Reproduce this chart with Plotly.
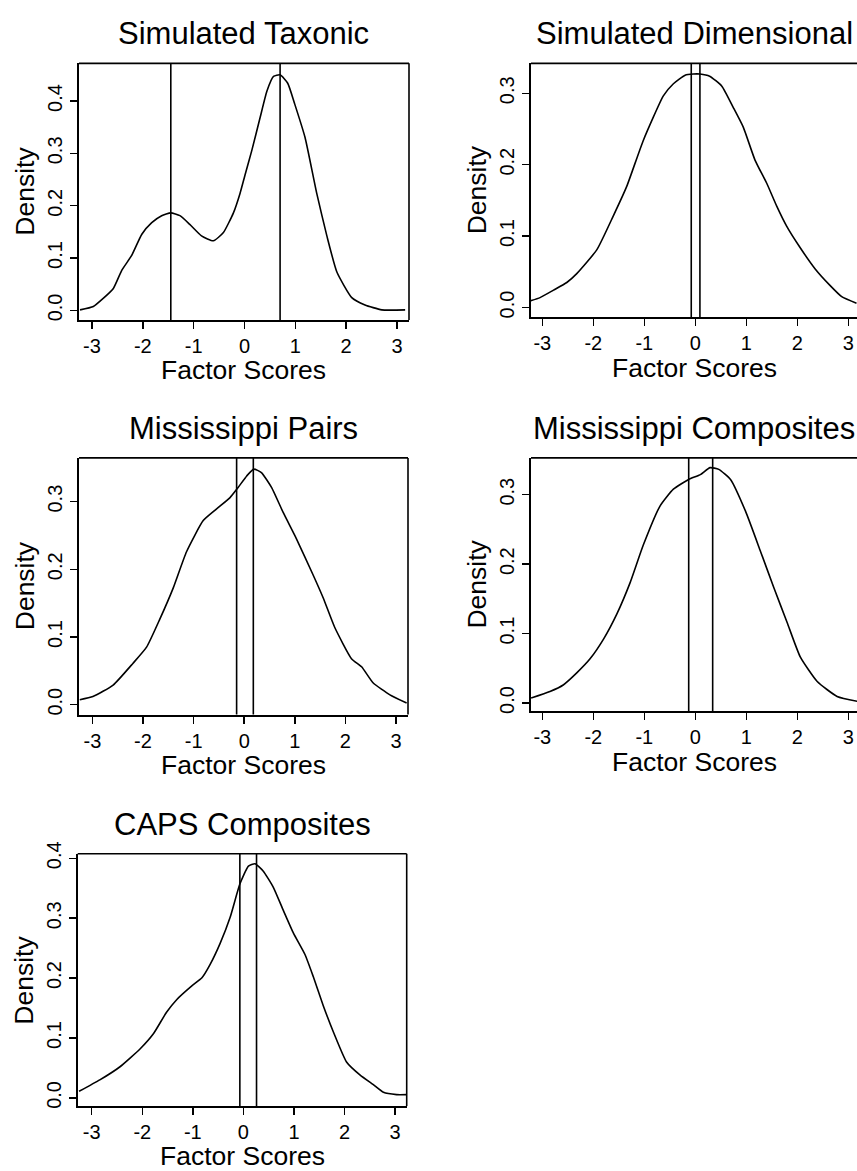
import plotly.graph_objects as go

# ---------------- data ----------------
titles = ["Simulated Taxonic", "Simulated Dimensional", "Mississippi Pairs",
          "Mississippi Composites", "CAPS Composites"]

tax_x = [-3.236, -2.974, -2.78, -2.58, -2.415, -2.22, -2.02, -1.825, -1.63, -1.45, -1.27,
         -1.077, -0.846, -0.612, -0.415, -0.218, -0.087, 0.01, 0.144, 0.307, 0.44, 0.57,
         0.70, 0.85, 0.99, 1.19, 1.42, 1.62, 1.817, 2.11, 2.37, 2.70, 3.16]
tax_y = [0.001, 0.0075, 0.023, 0.042, 0.0765, 0.105, 0.1456, 0.1676, 0.181, 0.1864, 0.181,
         0.1644, 0.1424, 0.133, 0.1488, 0.1864, 0.224, 0.2586, 0.3057, 0.3684, 0.4186, 0.447,
         0.450, 0.434, 0.3936, 0.3307, 0.224, 0.1424, 0.0734, 0.0245, 0.0105, 0.0011, 0.0011]
tax_vlines = [-1.45, 0.70]

dim_x = [-3.24, -3.045, -2.78, -2.52, -2.325, -1.93, -1.61, -1.345, -1.02, -0.627, -0.43,
         -0.2, -0.04, 0.09, 0.28, 0.52, 0.745, 0.94, 1.17, 1.40, 1.596, 1.79, 2.05, 2.35,
         2.64, 2.87, 3.16]
dim_y = [0.0091, 0.0138, 0.0243, 0.035, 0.0474, 0.081, 0.128, 0.1696, 0.234, 0.2964, 0.3134,
         0.3254, 0.327, 0.327, 0.324, 0.310, 0.280, 0.2526, 0.2065, 0.174, 0.142, 0.114,
         0.0844, 0.054, 0.031, 0.0152, 0.006]
dim_vlines = [-0.08, 0.09]

mp_x = [-3.25, -2.99, -2.59, -2.20, -1.93, -1.67, -1.40, -1.14, -0.81, -0.55, -0.28,
        -0.12, 0.05, 0.19, 0.34, 0.54, 0.77, 1.03, 1.36, 1.56, 1.79, 2.12, 2.32, 2.55,
        2.88, 3.21]
mp_y = [0.0073, 0.012, 0.029, 0.061, 0.085, 0.126, 0.173, 0.226, 0.272, 0.289, 0.306,
        0.321, 0.338, 0.348, 0.343, 0.321, 0.284, 0.2455, 0.192, 0.158, 0.114, 0.068,
        0.056, 0.032, 0.0146, 0.0024]
mp_vlines = [-0.15, 0.18]

mc_x = [-3.22, -2.85, -2.59, -2.33, -2.06, -1.80, -1.54, -1.28, -1.02, -0.69, -0.43,
        -0.13, 0.10, 0.29, 0.46, 0.69, 0.98, 1.28, 1.54, 1.80, 2.06, 2.39, 2.78, 3.18]
mc_y = [0.0071, 0.0166, 0.026, 0.043, 0.064, 0.092, 0.128, 0.173, 0.2275, 0.284, 0.308,
        0.322, 0.329, 0.339, 0.3365, 0.322, 0.277, 0.218, 0.166, 0.116, 0.066, 0.031,
        0.0095, 0.0024]
mc_vlines = [-0.13, 0.34]

caps_x = [-3.25, -2.84, -2.44, -2.04, -1.78, -1.52, -1.32, -1.02, -0.82, -0.66, -0.46,
          -0.26, -0.07, 0.10, 0.23, 0.39, 0.59, 0.79, 0.99, 1.22, 1.38, 1.58, 1.78, 2.04,
          2.31, 2.57, 2.77, 3.03, 3.23]
caps_y = [0.011, 0.030, 0.052, 0.082, 0.107, 0.143, 0.164, 0.187, 0.2005, 0.2225, 0.258,
          0.302, 0.357, 0.387, 0.391, 0.379, 0.352, 0.313, 0.275, 0.239, 0.203, 0.154,
          0.110, 0.060, 0.038, 0.022, 0.0093, 0.0055, 0.0055]
caps_vlines = [-0.07, 0.26]

x_ticks = [-3, -2, -1, 0, 1, 2, 3]
x_tick_text = ["-3", "-2", "-1", "0", "1", "2", "3"]
y_ticks_04 = [0.0, 0.1, 0.2, 0.3, 0.4]
y_ticks_03 = [0.0, 0.1, 0.2, 0.3]

# ---------------- layout geometry (pixels of the reference) ----------------
W, H = 857, 1171
FONT = "Liberation Sans, Arial, Helvetica, sans-serif"

panels = [
    dict(x=tax_x, y=tax_y, v=tax_vlines, box=(79, 409, 52, 312),
         xr=[-3.256, 3.236], yr=[-0.0183, 0.472], yt=y_ticks_04, right=True),
    dict(x=dim_x, y=dim_y, v=dim_vlines, box=(531, 857, 52, 309.3),
         xr=[-3.222, 3.17], yr=[-0.0138, 0.342], yt=y_ticks_03, right=False),
    dict(x=mp_x, y=mp_y, v=mp_vlines, box=(79, 408, 451.7, 711.7),
         xr=[-3.265, 3.237], yr=[-0.0146, 0.3646], yt=y_ticks_03, right=True),
    dict(x=mc_x, y=mc_y, v=mc_vlines, box=(531, 857, 451.7, 708.3),
         xr=[-3.222, 3.17], yr=[-0.0118, 0.353], yt=y_ticks_03, right=False),
    dict(x=caps_x, y=caps_y, v=caps_vlines, box=(77.7, 406.7, 852.7, 1108.3),
         xr=[-3.277, 3.23], yr=[-0.0137, 0.4076], yt=y_ticks_04, right=True),
]


def px(xpix):
    return xpix / W


def py(ypix):
    return 1 - ypix / H


fig = go.Figure()
layout = dict(width=W, height=H, margin=dict(l=0, r=0, t=0, b=0),
              paper_bgcolor="white", plot_bgcolor="white", showlegend=False,
              font=dict(family=FONT, color="black"))
annotations = []
shapes = []
LW = 1.6

for i, (p, title) in enumerate(zip(panels, titles)):
    n = "" if i == 0 else str(i + 1)
    xa, ya = "x" + n, "y" + n
    l, r, t, b = p["box"]
    xdom = [px(l), min(px(r), 1.0)]
    ydom = [py(b), py(t)]
    fig.add_trace(go.Scatter(x=p["x"], y=p["y"], mode="lines", xaxis=xa, yaxis=ya,
                             line=dict(color="black", width=LW, shape="spline", smoothing=0.5),
                             hoverinfo="skip"))
    for v in p["v"]:
        shapes.append(dict(type="line", xref=xa, yref=ya + " domain", x0=v, x1=v, y0=0, y1=1,
                           line=dict(color="black", width=LW)))
    shapes.append(dict(type="line", xref=xa + " domain", yref=ya + " domain",
                       x0=0, x1=1, y0=1, y1=1, line=dict(color="black", width=LW)))
    if p["right"]:
        shapes.append(dict(type="line", xref=xa + " domain", yref=ya + " domain",
                           x0=1, x1=1, y0=0, y1=1, line=dict(color="black", width=LW)))
    layout["xaxis" + n] = dict(domain=xdom, anchor=ya, range=p["xr"], showgrid=False,
                               zeroline=False, showline=True, linecolor="black", linewidth=2,
                               ticks="outside", ticklen=7, tickwidth=1.5, tickcolor="black",
                               tickvals=x_ticks, ticktext=x_tick_text,
                               tickfont=dict(size=20, family=FONT, color="black"))
    layout["yaxis" + n] = dict(domain=ydom, anchor=xa, range=p["yr"], showgrid=False,
                               zeroline=False, showline=True, linecolor="black", linewidth=2,
                               ticks="outside", ticklen=7, tickwidth=1.5, tickcolor="black",
                               tickvals=p["yt"], tickformat=".1f", tickangle=-90,
                               tickfont=dict(size=20, family=FONT, color="black"))
    cx = px((l + r) / 2)
    annotations.append(dict(text=title, xref="paper", yref="paper", x=cx,
                            y=py(t - 30), xanchor="center", yanchor="middle",
                            showarrow=False, font=dict(size=31, family=FONT, color="black")))
    annotations.append(dict(text="Factor Scores", xref="paper", yref="paper", x=cx,
                            y=py(b + 51), xanchor="center", yanchor="middle",
                            showarrow=False, font=dict(size=26.5, family=FONT, color="black")))
    annotations.append(dict(text="Density", xref="paper", yref="paper", x=px(l - 54),
                            y=py((t + b) / 2), xanchor="center", yanchor="middle",
                            textangle=-90, showarrow=False,
                            font=dict(size=26.5, family=FONT, color="black")))

layout["annotations"] = annotations
layout["shapes"] = shapes
fig.update_layout(**layout)
# remove the page's default 8px body margin so the figure sits at the window origin
fig.write_html("out.html", config={"displayModeBar": False, "staticPlot": True},
               post_script="document.body.style.margin='0';document.body.style.overflow='hidden';")
